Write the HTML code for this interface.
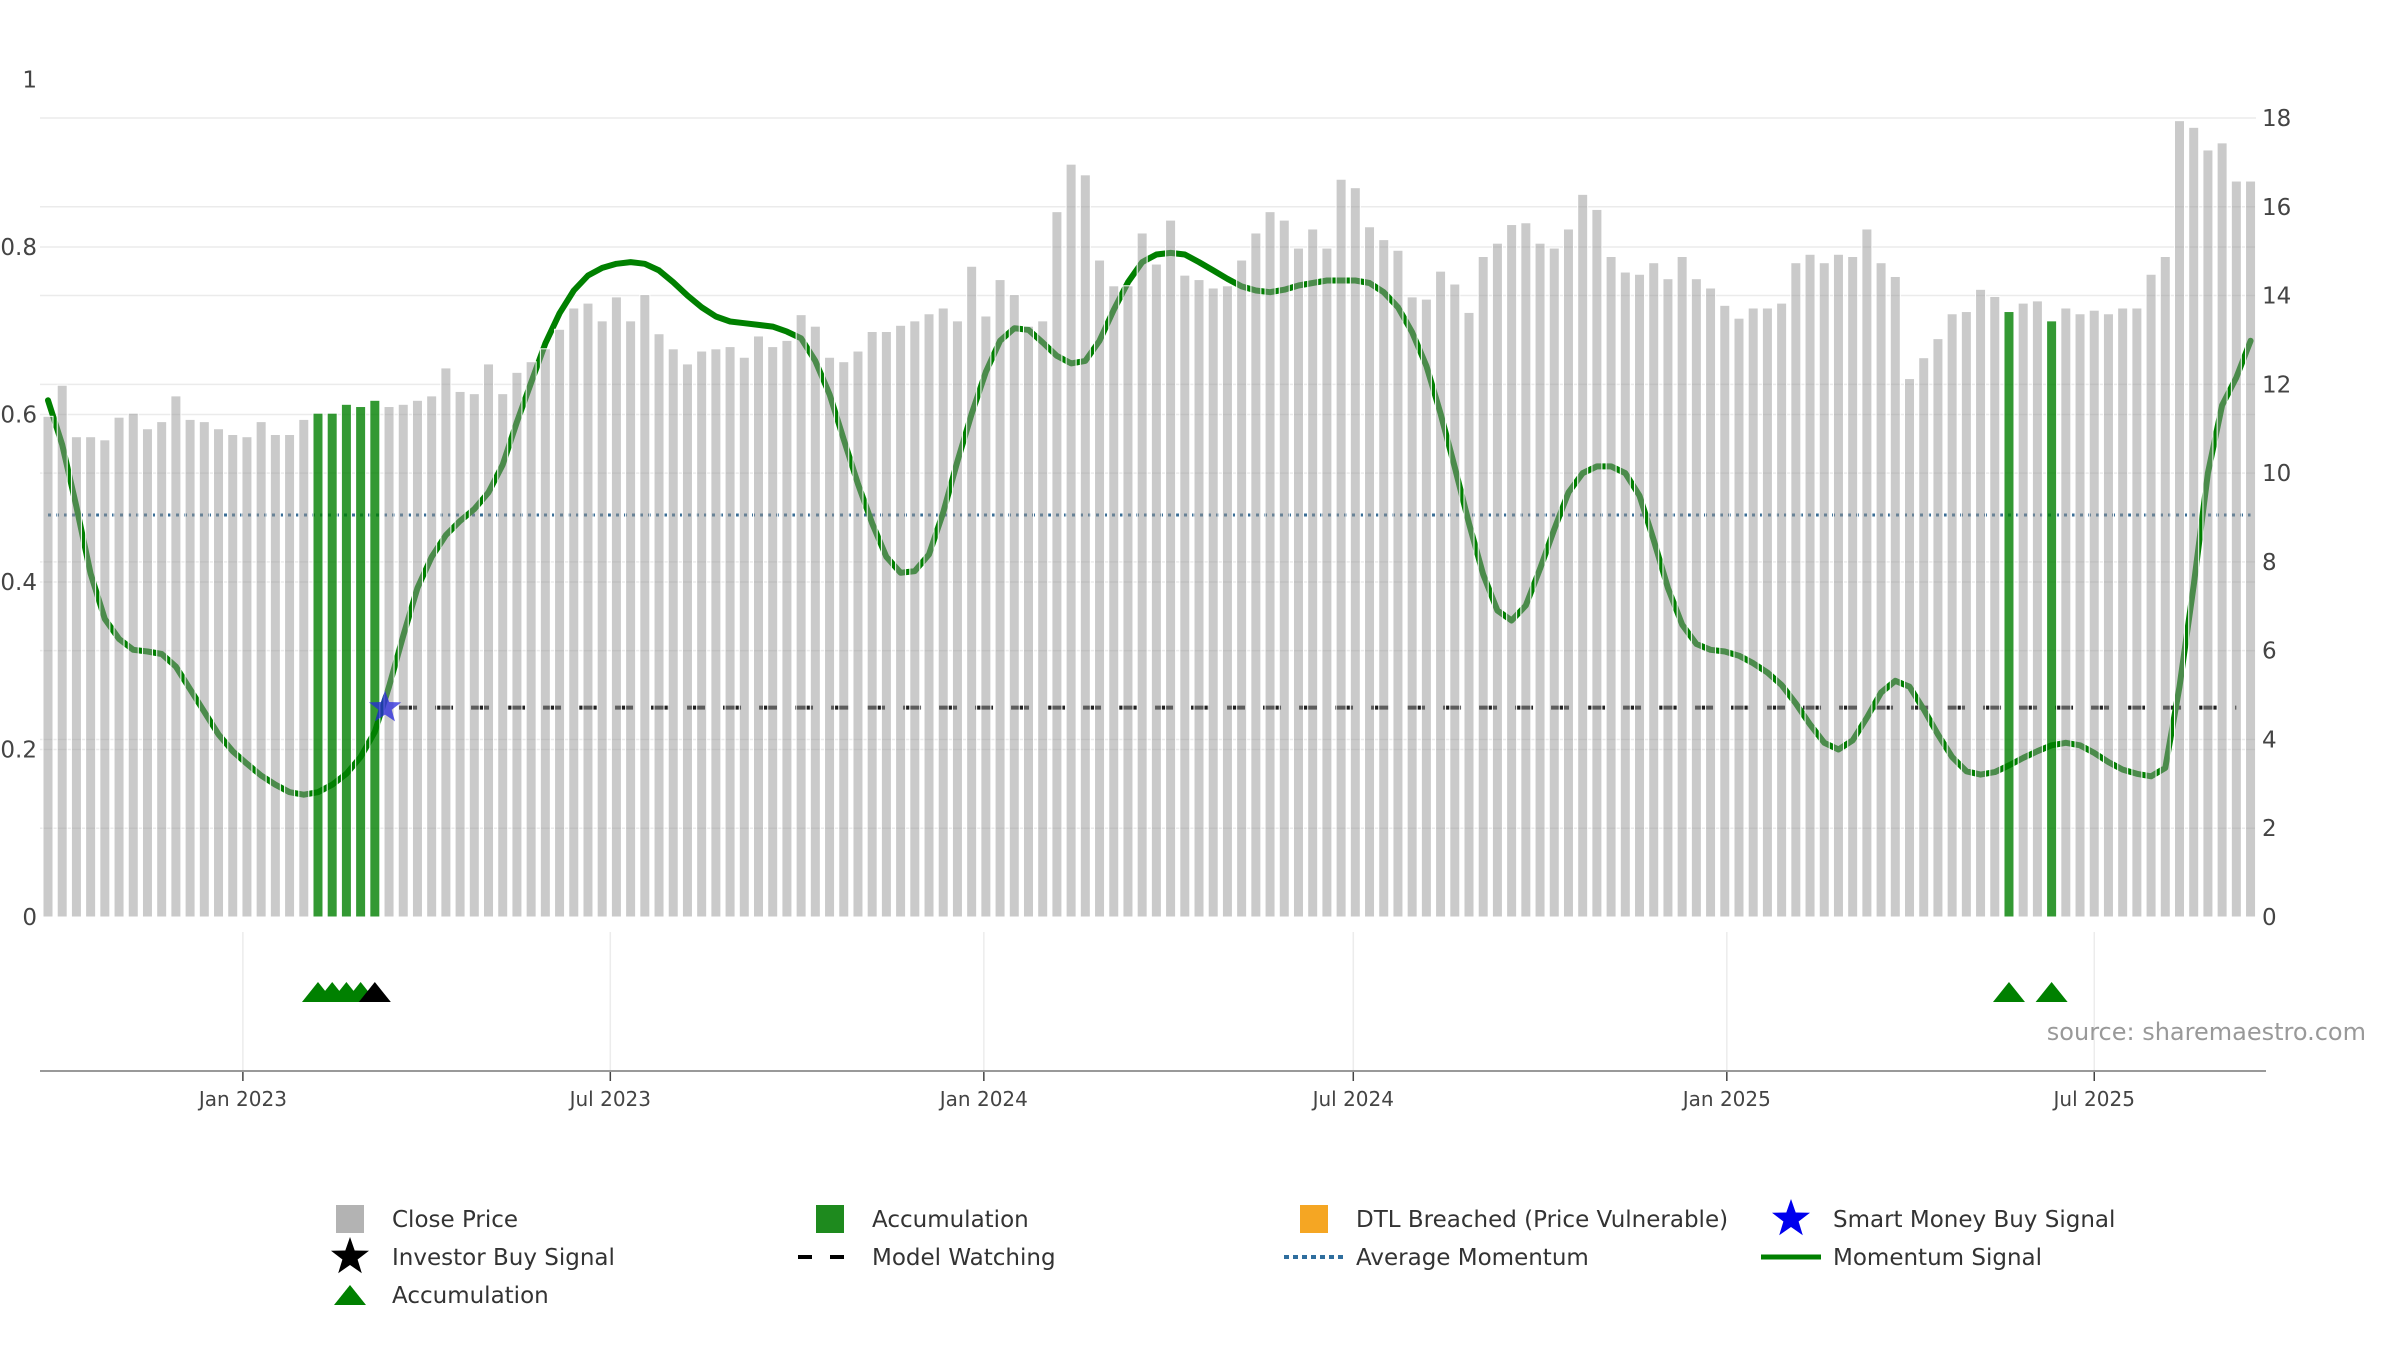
<!DOCTYPE html>
<html><head><meta charset="utf-8">
<style>
html,body{margin:0;padding:0;background:#fff;}
svg{display:block;font-family:"DejaVu Sans","Liberation Sans",sans-serif;}
</style></head>
<body>
<svg id="chart" width="2400" height="1350" viewBox="0 0 2400 1350" xmlns="http://www.w3.org/2000/svg">
<g id="grid"></g>
<g id="lines"></g>
<g id="bars"></g>
<g id="marks"></g>
<g id="axes"></g>
<text x="2366" y="1040" text-anchor="end" font-size="24" fill="#999">source: sharemaestro.com</text>
<g id="legend"></g>
</svg>
<script>
const closePrices = [11.28,11.98,10.82,10.82,10.75,11.26,11.35,11.0,11.16,11.74,11.21,11.16,11.0,10.87,10.82,11.16,10.87,10.87,11.21,11.35,11.35,11.55,11.5,11.64,11.5,11.55,11.64,11.74,12.37,11.84,11.79,12.46,11.79,12.27,12.51,12.8,13.24,13.72,13.83,13.43,13.97,13.43,14.02,13.14,12.8,12.46,12.75,12.8,12.85,12.61,13.09,12.85,12.99,13.57,
13.31,12.61,12.51,12.75,13.19,13.19,13.33,13.43,13.59,13.72,13.43,14.66,13.54,14.36,14.02,13.31,13.43,15.89,16.96,16.72,14.8,14.22,14.22,15.41,14.71,15.7,14.46,14.36,14.17,14.22,14.8,15.41,15.89,15.7,15.07,15.5,15.07,16.62,16.43,15.55,15.26,15.02,13.97,13.92,14.55,14.26,13.62,14.88,15.18,15.6,15.64,15.18,15.07,15.5,16.28,15.94,
14.88,14.53,14.48,14.74,14.38,14.88,14.38,14.17,13.78,13.49,13.72,13.72,13.83,14.74,14.93,14.74,14.93,14.88,15.5,14.74,14.43,12.13,12.6,13.03,13.59,13.64,14.14,13.98,13.64,13.83,13.88,13.43,13.72,13.59,13.67,13.59,13.72,13.72,14.48,14.88,17.94,17.79,17.28,17.44,16.58,16.58];
const momentum = [0.617,0.564,0.49,0.41,0.356,0.332,0.319,0.317,0.314,0.299,0.272,0.245,0.218,0.198,0.183,0.169,0.158,0.149,0.146,0.149,0.158,0.171,0.191,0.221,0.275,0.336,0.393,0.43,0.456,0.473,0.487,0.507,0.54,0.591,0.638,0.685,0.721,0.748,0.766,0.775,0.78,0.782,0.78,0.772,0.758,0.742,0.728,0.717,0.711,0.709,0.707,0.705,0.699,0.691,
0.664,0.624,0.57,0.517,0.47,0.43,0.411,0.413,0.433,0.483,0.544,0.601,0.651,0.688,0.703,0.701,0.686,0.67,0.661,0.664,0.688,0.725,0.758,0.782,0.791,0.793,0.791,0.782,0.772,0.762,0.753,0.748,0.746,0.749,0.754,0.757,0.76,0.76,0.76,0.757,0.746,0.728,0.698,0.658,0.601,0.537,0.47,0.409,0.366,0.354,0.372,0.416,0.463,0.507,0.53,0.538,
0.538,0.53,0.503,0.45,0.393,0.349,0.326,0.319,0.317,0.312,0.303,0.292,0.277,0.255,0.23,0.208,0.2,0.211,0.238,0.268,0.282,0.275,0.248,0.218,0.191,0.174,0.17,0.173,0.181,0.19,0.198,0.205,0.208,0.205,0.196,0.185,0.176,0.171,0.168,0.178,0.275,0.396,0.53,0.611,0.644,0.688];
const accumulationBars = [19,20,21,22,23,138,141];
const accumulationTriangles = [19,20,21,22,138,141];
const investorSignals = [23];
const smartMoneySignal = 24;
const modelWatchingLevel = 0.25;
const averageMomentum = 0.48;
const leftTicks = [0,0.2,0.4,0.6,0.8,1];
const leftTickLabels = ["0","0.2","0.4","0.6","0.8","1"];
const rightTicks = [0,2,4,6,8,10,12,14,16,18];
const dateTicks = ["2023-01-01","2023-07-01","2024-01-01","2024-07-01","2025-01-01","2025-07-01"];
const dateTickLabels = ["Jan 2023","Jul 2023","Jan 2024","Jul 2024","Jan 2025","Jul 2025"];
const startDate = "2022-09-27";

const NS="http://www.w3.org/2000/svg";
function mk(tag, attrs, parent){const e=document.createElementNS(NS,tag);for(const k in attrs)e.setAttribute(k,attrs[k]);parent.appendChild(e);return e;}
const X0=48, STEP=14.21, Y0=917;
const t0=Date.parse(startDate);
const xDate = d => X0 + (Date.parse(d)-t0)/864e5/7*STEP;
const xBar = i => X0 + i*STEP;
const yL = v => Y0 - v*837.5;
const yR = v => Y0 - v*(Y0-118)/18;
const grid=document.getElementById('grid'), lines=document.getElementById('lines'), bars=document.getElementById('bars'), marks=document.getElementById('marks'), axes=document.getElementById('axes'), legend=document.getElementById('legend');

rightTicks.forEach(v=>{ if(v===0) return;
  const l=mk('line',{x1:40,x2:2256,y1:yR(v),y2:yR(v),stroke:'#ebebeb','stroke-width':1.5},grid);
  
  
  const t=mk('text',{x:2262,y:yR(v)+8,'font-size':23,fill:'#444'},axes); t.textContent=v;
  
  
});
{const t=mk('text',{x:2262,y:yR(0)+8,'font-size':23,fill:'#444'},axes); t.textContent='0';
 
 }
leftTicks.forEach((v,i)=>{
  if(v>0&&v<1){const l=mk('line',{x1:40,x2:2256,y1:yL(v),y2:yL(v),stroke:'#ebebeb','stroke-width':1.5},grid);
  
  }
  const t=mk('text',{x:37,y:yL(v)+8,'font-size':23,fill:'#444','text-anchor':'end'},axes); t.textContent=leftTickLabels[i];
  
  
});
dateTicks.forEach((d,i)=>{
  const x=xDate(d);
  const g=mk('line',{x1:x,x2:x,y1:932,y2:1071,stroke:'#ececec','stroke-width':1.5},grid);
  
  
  const tk=mk('line',{x1:x,x2:x,y1:1071,y2:1081,stroke:'#444','stroke-width':1.5},axes);
  
  
  const t=mk('text',{x:x,y:1106,'font-size':20,fill:'#444','text-anchor':'middle'},axes); t.textContent=dateTickLabels[i];
  
  
});
{const a=mk('line',{x1:40,x2:2266,y1:1071,y2:1071,stroke:'#999','stroke-width':2},axes);
 
 }

{const l=mk('line',{x1:X0,x2:xBar(closePrices.length-1),y1:yL(averageMomentum),y2:yL(averageMomentum),stroke:'#3a6e96','stroke-width':3,'stroke-dasharray':'3,5'},lines);
 
 }
{const l=mk('line',{x1:xBar(smartMoneySignal)+10,x2:xBar(closePrices.length-2),y1:yL(modelWatchingLevel),y2:yL(modelWatchingLevel),stroke:'#222','stroke-width':4,'stroke-dasharray':'18,18'},lines);
 
 }
{const d=momentum.map((v,i)=>(i?'L':'M')+xBar(i).toFixed(1)+','+yL(v).toFixed(1)).join(' ');
 const p=mk('path',{d:d,fill:'none',stroke:'#008000','stroke-width':6,'stroke-linejoin':'round','stroke-linecap':'round'},lines);
 
 }

closePrices.forEach((v,i)=>{
  const acc=accumulationBars.includes(i);
  const r=mk('rect',{x:xBar(i)-5,y:yR(v),width:10,height:Y0-yR(v),fill:acc?'rgba(0,128,0,0.8)':'rgba(150,150,150,0.5)',stroke:'#fff','stroke-width':1},bars);
  
  
});
function starPts(cx,cy,R,r){let s='';for(let k=0;k<10;k++){const a=-Math.PI/2+k*Math.PI/5,rr=k%2?r:R;s+=(cx+rr*Math.cos(a)).toFixed(1)+','+(cy+rr*Math.sin(a)).toFixed(1)+' ';}return s;}
{const s=mk('polygon',{points:starPts(xBar(smartMoneySignal)-4,yL(modelWatchingLevel),17,7),fill:'rgba(40,40,220,0.75)'},marks);
 
 }
function tri(cx,color,name){const p=mk('polygon',{points:`${cx-16},1002 ${cx},982 ${cx+16},1002`,fill:color},marks);
 
 }
accumulationTriangles.forEach(i=>tri(xBar(i),'#008000','accumulation-triangle'));
investorSignals.forEach(i=>tri(xBar(i),'#000','investor-buy-triangle'));

const L=[
 [350,1219,'rect','#b3b3b3','Close Price','legend-close-price'],
 [830,1219,'rect','#1e8a1e','Accumulation','legend-accumulation-bar'],
 [1314,1219,'rect','#f5a623','DTL Breached (Price Vulnerable)','legend-dtl-breached'],
 [1791,1219,'star','#0000ee','Smart Money Buy Signal','legend-smart-money'],
 [350,1257,'star','#000','Investor Buy Signal','legend-investor-buy'],
 [830,1257,'dash','#000','Model Watching','legend-model-watching'],
 [1314,1257,'dot','#2f6e9e','Average Momentum','legend-average-momentum'],
 [1791,1257,'line','#008000','Momentum Signal','legend-momentum-signal'],
 [350,1295,'tri','#008000','Accumulation','legend-accumulation-triangle']];
L.forEach(([x,y,k,c,txt,name])=>{
  const g=mk('g',{},legend);
  
  
  if(k==='rect') mk('rect',{x:x-14,y:y-14,width:28,height:28,fill:c},g);
  if(k==='star') mk('polygon',{points:starPts(x,y,20,8),fill:c},g);
  if(k==='tri') mk('polygon',{points:`${x-16},${y+10} ${x},${y-10} ${x+16},${y+10}`,fill:c},g);
  if(k==='dash') mk('line',{x1:x-32,x2:x+28,y1:y,y2:y,stroke:c,'stroke-width':4,'stroke-dasharray':'14,18'},g);
  if(k==='dot') mk('line',{x1:x-30,x2:x+30,y1:y,y2:y,stroke:c,'stroke-width':4,'stroke-dasharray':'5,4'},g);
  if(k==='line') mk('line',{x1:x-30,x2:x+30,y1:y,y2:y,stroke:c,'stroke-width':5},g);
  const t=mk('text',{x:x+42,y:y+8,'font-size':23,fill:'#333'},g); t.textContent=txt;
});
</script>
</body></html>
